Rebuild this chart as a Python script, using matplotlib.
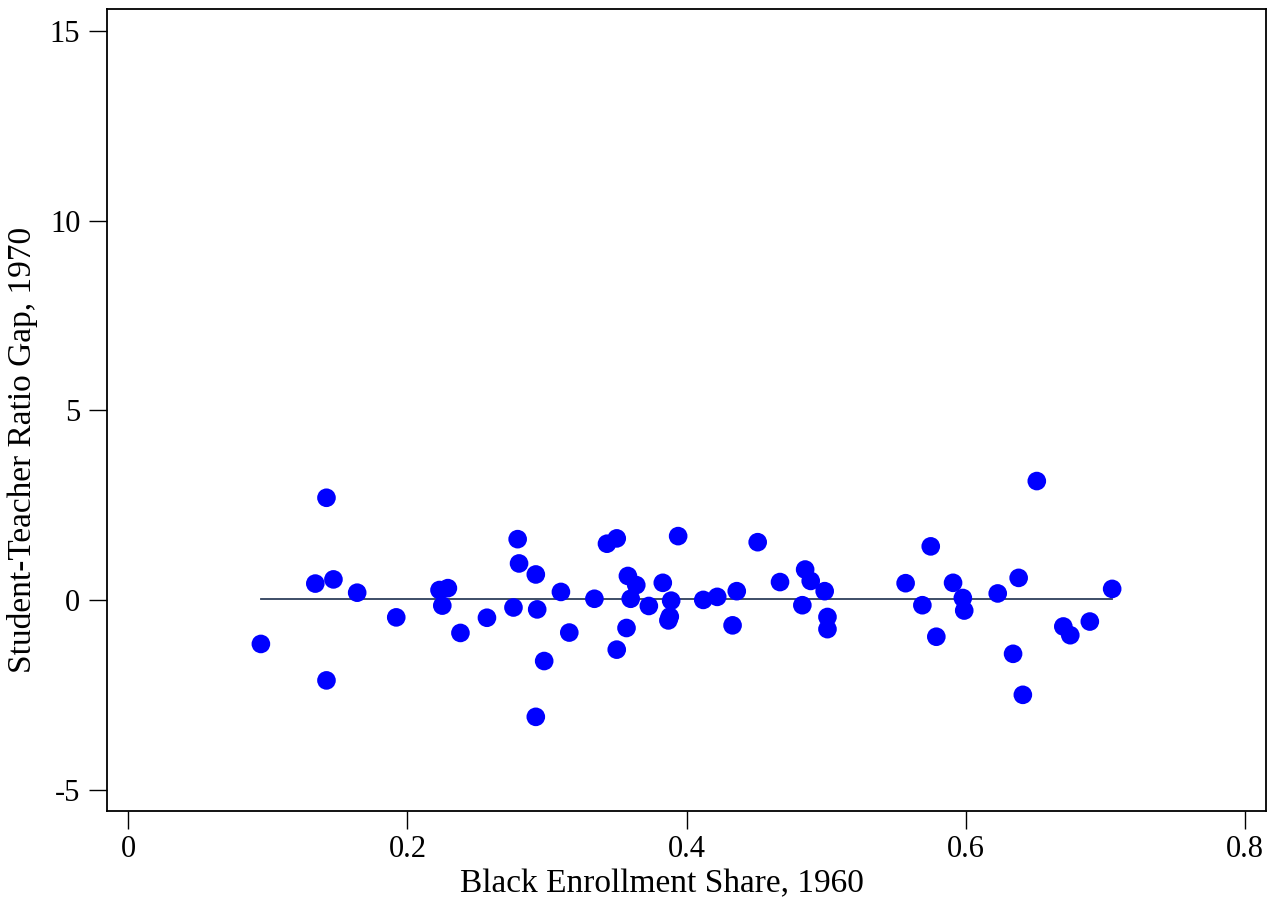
import matplotlib

matplotlib.use("Agg")

import matplotlib.pyplot as plt
import numpy as np

plt.rcParams["font.family"] = ["Liberation Serif", "DejaVu Serif"]

# black enrollment share, 1960 (x) and student-teacher ratio gap, 1970 (y)
share_1960 = [
    0.095, 0.142, 0.134, 0.147, 0.164, 0.142, 0.192, 0.223, 0.229, 0.225,
    0.238, 0.257, 0.279, 0.280, 0.292, 0.276, 0.293, 0.298, 0.292, 0.310,
    0.316, 0.334, 0.343, 0.350, 0.350, 0.358, 0.364, 0.360, 0.357, 0.373,
    0.383, 0.389, 0.388, 0.387, 0.394, 0.412, 0.422, 0.436, 0.433, 0.451,
    0.467, 0.485, 0.489, 0.499, 0.483, 0.501, 0.501, 0.557, 0.569, 0.575,
    0.579, 0.591, 0.598, 0.599, 0.623, 0.638, 0.634, 0.641, 0.651, 0.670,
    0.675, 0.689, 0.705,
]
ratio_gap_1970 = [
    -1.15, 2.70, 0.44, 0.55, 0.20, -2.11, -0.45, 0.27, 0.32, -0.14,
    -0.86, -0.46, 1.61, 0.97, 0.68, -0.19, -0.24, -1.60, -3.07, 0.22,
    -0.85, 0.04, 1.49, 1.63, -1.30, 0.64, 0.40, 0.04, -0.73, -0.15,
    0.46, -0.01, -0.43, -0.53, 1.69, 0.01, 0.09, 0.24, -0.66, 1.53,
    0.48, 0.81, 0.51, 0.24, -0.13, -0.44, -0.76, 0.45, -0.13, 1.42,
    -0.96, 0.46, 0.06, -0.27, 0.18, 0.59, -1.41, -2.49, 3.14, -0.69,
    -0.92, -0.56, 0.30,
]

# fitted line endpoints
fit_x = [0.095, 0.705]
fit_y = [0.03, 0.03]

x_ticks = [0, 0.2, 0.4, 0.6, 0.8]
x_tick_labels = ["0", "0.2", "0.4", "0.6", "0.8"]
y_ticks = [-5, 0, 5, 10, 15]
y_tick_labels = ["-5", "0", "5", "10", "15"]

fig = plt.figure(figsize=(12.76, 9.09), dpi=100)
ax = fig.add_axes([0.0836, 0.1078, 0.9083, 0.8826])

ax.scatter(share_1960, ratio_gap_1970, s=180, color="#0000ff", edgecolors="none", zorder=3)
ax.plot(fit_x, fit_y, color="#2e3f5c", linewidth=1.3, zorder=2)

ax.set_xlim(-0.0155, 0.815)
ax.set_ylim(-5.55, 15.58)
ax.set_xticks(x_ticks)
ax.set_xticklabels(x_tick_labels)
ax.set_yticks(y_ticks)
ax.set_yticklabels(y_tick_labels)
ax.tick_params(axis="both", direction="out", length=13, width=1.0, pad=6, labelsize=22, colors="black")
ax.tick_params(axis="x", pad=4)

for spine in ax.spines.values():
    spine.set_linewidth(1.3)
    spine.set_color("black")

ax.set_xlabel("Black Enrollment Share, 1960", fontsize=24)
ax.set_ylabel("Student-Teacher Ratio Gap, 1970", fontsize=24)
ax.xaxis.label.set_va("center")
ax.yaxis.label.set_va("center")
ax.xaxis.set_label_coords(0.479, -0.091)
ax.yaxis.set_label_coords(-0.073, 0.45)

fig.savefig("out.png", dpi=100)
